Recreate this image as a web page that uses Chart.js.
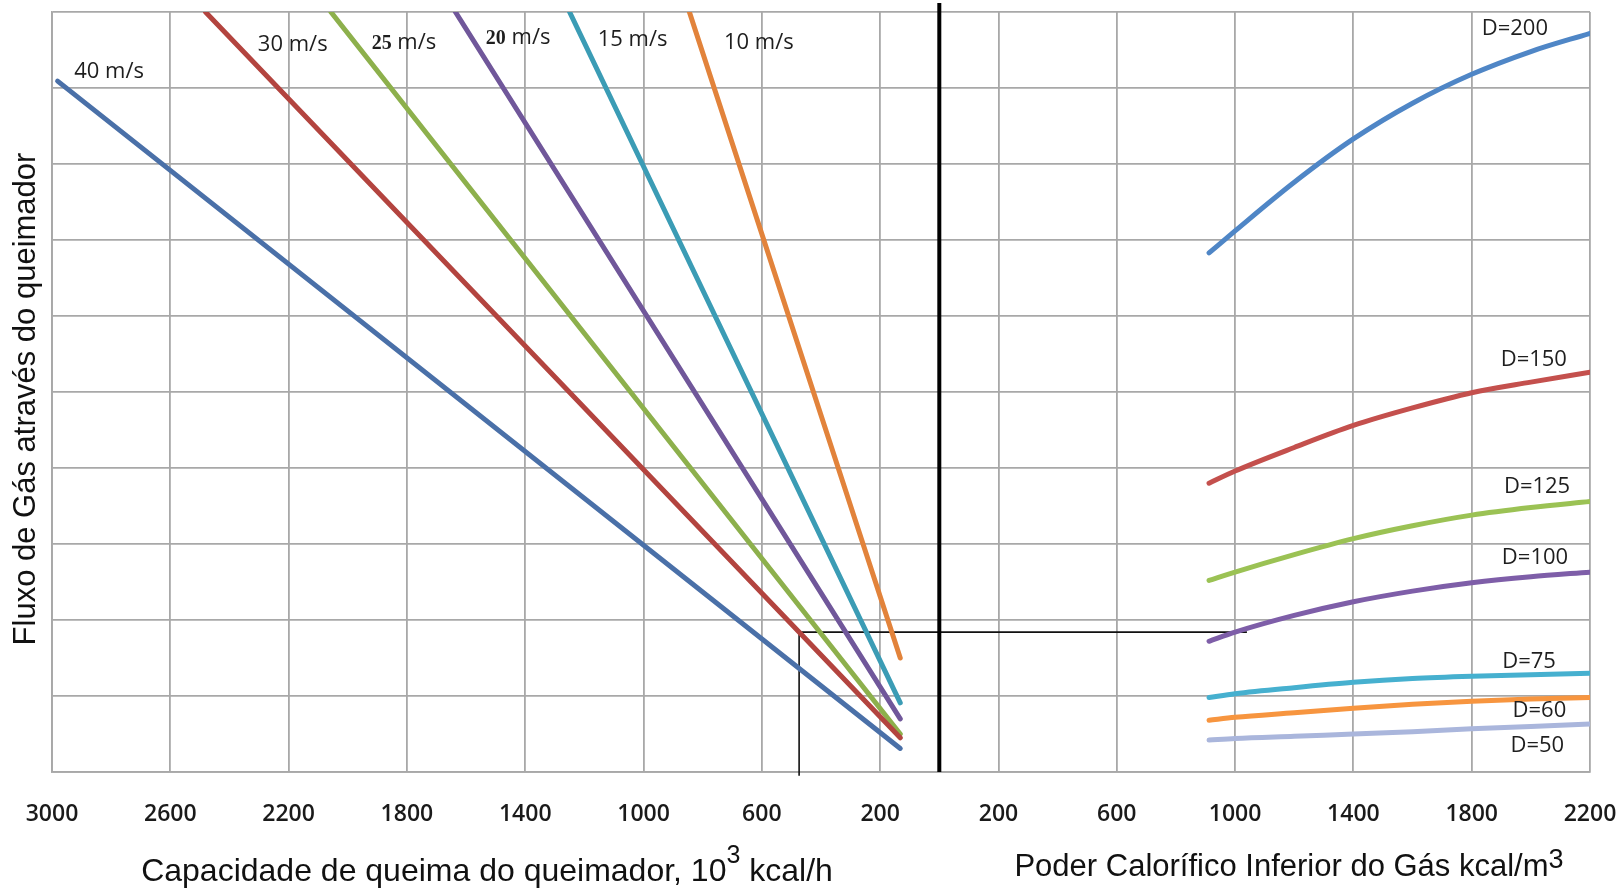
<!DOCTYPE html>
<html>
<head>
<meta charset="utf-8">
<script src="https://cdn.jsdelivr.net/npm/chart.js@4/dist/chart.umd.min.js"></script>
<style>
  html, body { margin: 0; padding: 0; background: #fff; }
  #wrap { width: 1624px; height: 888px; }
</style>
</head>
<body>
<div id="wrap"><canvas id="nomogram" width="1624" height="888"></canvas></div>
<script>
// Left panel: burner capacity (10^3 kcal/h) -> gas flow, one straight line per gas velocity
const velocityNames = ["40 m/s", "30 m/s", "25 m/s", "20 m/s", "15 m/s", "10 m/s"];
const capacityTop = [2981, 2481, 2057, 1636, 1250, 845];
const flowTop = [9.09, 10, 10, 10, 10, 10];
const capacityLow = [132, 132, 132, 132, 132, 132];
const flowLow = [0.31, 0.45, 0.5, 0.7, 0.91, 1.5];

// Right panel: lower heating value (kcal/m3) -> gas flow, one curve per diameter
const heatValues = [912, 1000, 1200, 1400, 1600, 1800, 2000, 2200];
const diameterNames = ["D=200", "D=150", "D=125", "D=100", "D=75", "D=60", "D=50"];
const flowD200 = [6.83, 7.12, 7.76, 8.33, 8.8, 9.18, 9.48, 9.72];
const flowD150 = [3.8, 3.96, 4.27, 4.56, 4.79, 4.99, 5.13, 5.26];
const flowD125 = [2.52, 2.63, 2.86, 3.07, 3.24, 3.38, 3.48, 3.56];
const flowD100 = [1.72, 1.84, 2.06, 2.24, 2.38, 2.49, 2.57, 2.63];
const flowD75 = [0.98, 1.03, 1.11, 1.18, 1.23, 1.26, 1.28, 1.3];
const flowD60 = [0.68, 0.72, 0.78, 0.84, 0.89, 0.93, 0.96, 0.98];
const flowD50 = [0.42, 0.44, 0.47, 0.5, 0.53, 0.57, 0.6, 0.63];

// worked example drawn in black
const exampleCapacity = 474;
const exampleHeat = 1040;
const exampleFlow = 1.84;

// axis ticks
const capacityTicks = [3000, 2600, 2200, 1800, 1400, 1000, 600, 200];
const heatTicks = [200, 600, 1000, 1400, 1800, 2200];

const leftColors = ["#4a70a8", "#b3443f", "#8db04c", "#70579a", "#3b9cb5", "#e2833b"];
const rightColors = ["#4f86c6", "#c4504d", "#9bc254", "#7e5ea8", "#46b0cf", "#f7953f", "#aab6dc"];

const datasets = [];

velocityNames.forEach(function (name, i) {
  datasets.push({
    label: name,
    data: [
      { x: -capacityTop[i], y: flowTop[i] },
      { x: -capacityLow[i], y: flowLow[i] }
    ],
    borderColor: leftColors[i],
    borderWidth: 5,
    borderCapStyle: "round"
  });
});

[flowD200, flowD150, flowD125, flowD100, flowD75, flowD60, flowD50].forEach(function (series, i) {
  datasets.push({
    label: diameterNames[i],
    data: heatValues.map((h, k) => ({ x: h, y: series[k] })),
    borderColor: rightColors[i],
    borderWidth: 5,
    borderCapStyle: "round",
    cubicInterpolationMode: "monotone"
  });
});

// divider between the two panels
datasets.push({
  label: "divider",
  data: [{ x: 0, y: 0 }, { x: 0, y: 10.12 }],
  borderColor: "#000",
  borderWidth: 4,
  clip: false
});

// example path
datasets.push({
  label: "example",
  data: [
    { x: -exampleCapacity, y: -0.05 },
    { x: -exampleCapacity, y: exampleFlow },
    { x: exampleHeat, y: exampleFlow }
  ],
  borderColor: "#111",
  borderWidth: 1.6,
  clip: false
});

// curve names, placed in data units; "bold" is a number drawn in a heavier serif
const curveLabels = [
  { text: "40 m/s", x: -2807, y: 9.22 },
  { text: "30 m/s", x: -2186, y: 9.57 },
  { text: " m/s", bold: "25", x: -1810, y: 9.6 },
  { text: " m/s", bold: "20", x: -1424, y: 9.66 },
  { text: "15 m/s", x: -1037, y: 9.63 },
  { text: "10 m/s", x: -610, y: 9.6 },
  { text: "D=200", x: 1946, y: 9.78 },
  { text: "D=150", x: 2010, y: 5.43 },
  { text: "D=125", x: 2021, y: 3.75 },
  { text: "D=100", x: 2014, y: 2.82 },
  { text: "D=75", x: 1994, y: 1.45 },
  { text: "D=60", x: 2029, y: 0.8 },
  { text: "D=50", x: 2022, y: 0.35 }
];

// draws a text with a raised "3" at the end or in the middle
function drawWithSup(ctx, before, sup, after, centerX, baseline, size, supSize, supRise) {
  const mainFont = size + "px 'Liberation Sans', Arial, sans-serif";
  const supFont = supSize + "px 'Liberation Sans', Arial, sans-serif";
  ctx.font = mainFont;
  const w1 = ctx.measureText(before).width;
  const w3 = ctx.measureText(after).width;
  ctx.font = supFont;
  const w2 = ctx.measureText(sup).width;
  let x = centerX - (w1 + w2 + w3) / 2;
  ctx.textAlign = "left";
  ctx.textBaseline = "alphabetic";
  ctx.font = mainFont;
  ctx.fillText(before, x, baseline);
  x += w1;
  ctx.font = supFont;
  ctx.fillText(sup, x, baseline - supRise);
  x += w2;
  ctx.font = mainFont;
  ctx.fillText(after, x, baseline);
}

const labelFont = "22px 'Open Sans', sans-serif";
const boldFont = "bold 20px 'Liberation Serif', serif";

const textPlugin = {
  id: "nomogramText",
  afterDatasetsDraw(chart) {
    const ctx = chart.ctx;
    const xs = chart.scales.x;
    const ys = chart.scales.y;
    ctx.save();
    ctx.fillStyle = "#1e1e1e";
    ctx.textBaseline = "middle";
    curveLabels.forEach(function (l) {
      const cx = xs.getPixelForValue(l.x);
      const cy = ys.getPixelForValue(l.y);
      if (l.bold) {
        ctx.font = boldFont;
        const wb = ctx.measureText(l.bold).width;
        ctx.font = labelFont;
        const wt = ctx.measureText(l.text).width;
        let x = cx - (wb + wt) / 2;
        ctx.textAlign = "left";
        ctx.font = boldFont;
        ctx.fillText(l.bold, x, cy + 1);
        ctx.font = labelFont;
        ctx.fillText(l.text, x + wb, cy);
      } else {
        ctx.textAlign = "center";
        ctx.font = labelFont;
        ctx.fillText(l.text, cx, cy);
      }
    });

    // axis titles
    ctx.fillStyle = "#111";
    drawWithSup(ctx, "Capacidade de queima do queimador, 10", "3", " kcal/h", 487, 881, 32, 25, 18);
    drawWithSup(ctx, "Poder Calorífico Inferior do Gás kcal/m", "3", "", 1289, 876, 31, 27, 8);

    ctx.translate(35, 399);
    ctx.rotate(-Math.PI / 2);
    ctx.textAlign = "center";
    ctx.textBaseline = "alphabetic";
    ctx.font = "31px 'Liberation Sans', Arial, sans-serif";
    ctx.fillText("Fluxo de Gás através do queimador", 0, 0);
    ctx.restore();
  }
};

const gridColor = "#a8a8a8";

new Chart(document.getElementById("nomogram"), {
  type: "scatter",
  data: { datasets: datasets },
  options: {
    responsive: false,
    animation: false,
    devicePixelRatio: 1,
    showLine: true,
    elements: {
      point: { radius: 0, hoverRadius: 0 },
      line: { fill: false }
    },
    layout: { padding: { top: 12, right: 34, left: 0, bottom: 0 } },
    plugins: {
      legend: { display: false },
      tooltip: { enabled: false }
    },
    scales: {
      x: {
        type: "linear",
        min: -3000,
        max: 2200,
        afterBuildTicks: function (scale) {
          scale.ticks = capacityTicks.map(v => -v).concat(heatTicks).map(v => ({ value: v }));
        },
        afterFit: function (scale) {
          scale.height = 116;
          scale.paddingLeft = 0;
          scale.paddingRight = 0;
        },
        grid: { color: gridColor, lineWidth: 1.8, drawTicks: false },
        border: { color: gridColor, width: 1.8 },
        ticks: {
          autoSkip: false,
          maxRotation: 0,
          padding: 29,
          color: "#1a1a1a",
          font: { family: "'Open Sans', sans-serif", size: 23, weight: 600 },
          callback: function (value) { return Math.abs(value); }
        }
      },
      y: {
        type: "linear",
        min: 0,
        max: 10,
        afterFit: function (scale) { scale.width = 52; },
        grid: { color: gridColor, lineWidth: 1.8, drawTicks: false },
        border: { color: gridColor, width: 1.8 },
        ticks: { stepSize: 1, display: false }
      }
    }
  },
  plugins: [textPlugin]
});
</script>
</body>
</html>
